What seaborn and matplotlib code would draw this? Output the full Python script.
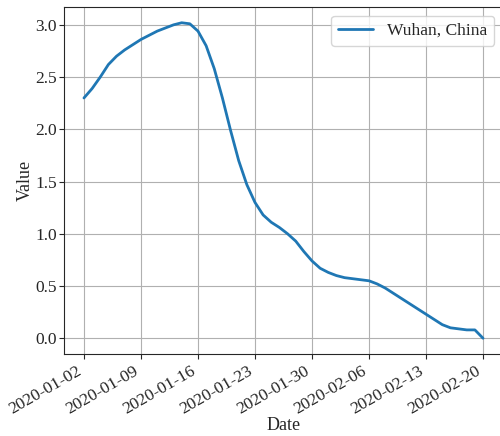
import pandas as pd
import matplotlib.pyplot as plt
import matplotlib.dates as mdates
import seaborn as sns

# Daily values
dates = pd.date_range("2020-01-02", "2020-02-20", freq="D")
values = [2.30, 2.39, 2.50, 2.62, 2.70, 2.76, 2.81, 2.86, 2.90, 2.94,
          2.97, 3.00, 3.02, 3.01, 2.94, 2.80, 2.58, 2.30, 1.99, 1.70,
          1.47, 1.30, 1.18, 1.11, 1.06, 1.00, 0.93, 0.83, 0.74, 0.67,
          0.63, 0.60, 0.58, 0.57, 0.56, 0.55, 0.52, 0.48, 0.43, 0.38,
          0.33, 0.28, 0.23, 0.18, 0.13, 0.10, 0.09, 0.08, 0.08, 0.00]
series_name = "Wuhan, China"

df = pd.DataFrame({"Date": dates, "Value": values})

sns.set_style("ticks")
plt.rcParams["font.family"] = ["Liberation Serif", "DejaVu Serif"]
plt.rcParams["font.size"] = 13

fig = plt.figure(figsize=(5, 4.36), dpi=100)
ax = fig.add_axes([0.128, 0.188, 0.878, 0.796])
sns.lineplot(data=df, x="Date", y="Value", ax=ax, color="#1f77b4",
             linewidth=2, label=series_name)

ax.set_xticks(dates[::7])
ax.xaxis.set_major_formatter(mdates.DateFormatter("%Y-%m-%d"))
plt.setp(ax.get_xticklabels(), rotation=30, ha="right")
ax.tick_params(axis="x", labelsize=12.5, pad=3)
ax.tick_params(axis="y", labelsize=12.5, pad=1.5)
ax.set_xlabel("Date", fontsize=13, labelpad=0)
ax.set_ylabel("Value", fontsize=13, labelpad=1)
ax.grid(True, color="#b0b0b0", linewidth=0.8)
ax.legend(loc="upper right", fontsize=12.6, frameon=True)

plt.savefig("out.png", dpi=100)
